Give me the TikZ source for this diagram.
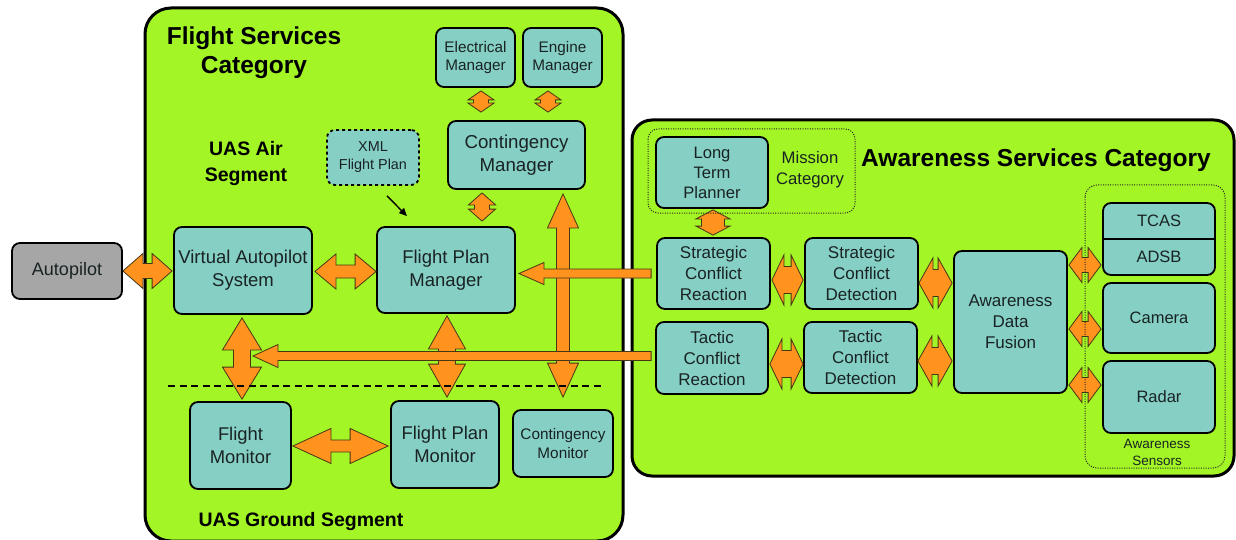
\documentclass[tikz,border=0pt]{standalone}
\usepackage{fontspec}
\setmainfont{Liberation Sans}
\usetikzlibrary{calc,arrows.meta}
\definecolor{limeg}{RGB}{163,245,38}
\definecolor{tealb}{RGB}{134,207,196}
\definecolor{orng}{RGB}{255,147,30}
\definecolor{grayb}{RGB}{166,166,166}
\definecolor{arrline}{RGB}{70,55,20}
\definecolor{txt}{RGB}{25,35,35}
\newcommand\fz[2]{\fontsize{#1}{#2}\selectfont}
% horizontal double arrow: #1 left tip, #2 right tip, #3 head half width, #4 shaft half width, #5 head length
\newcommand\hdarr[5]{\path[fatarr] let \p1=#1, \p2=#2 in
 (\x1,\y1) -- (\x1+#5pt,\y1+#3pt) -- (\x1+#5pt,\y1+#4pt) -- (\x2-#5pt,\y1+#4pt) -- (\x2-#5pt,\y1+#3pt) -- (\x2,\y1)
 -- (\x2-#5pt,\y1-#3pt) -- (\x2-#5pt,\y1-#4pt) -- (\x1+#5pt,\y1-#4pt) -- (\x1+#5pt,\y1-#3pt) -- cycle;}
% vertical double arrow: #1 top tip, #2 bottom tip
\newcommand\vdarr[5]{\path[fatarr] let \p1=#1, \p2=#2 in
 (\x1,\y1) -- (\x1+#3pt,\y1-#5pt) -- (\x1+#4pt,\y1-#5pt) -- (\x1+#4pt,\y2+#5pt) -- (\x1+#3pt,\y2+#5pt) -- (\x1,\y2)
 -- (\x1-#3pt,\y2+#5pt) -- (\x1-#4pt,\y2+#5pt) -- (\x1-#4pt,\y1-#5pt) -- (\x1-#3pt,\y1-#5pt) -- cycle;}
% single left-pointing arrow: #1 tip (left), #2 tail (right)
\newcommand\larr[5]{\path[fatarr] let \p1=#1, \p2=#2 in
 (\x1,\y1) -- (\x1+#5pt,\y1+#3pt) -- (\x1+#5pt,\y1+#4pt) -- (\x2,\y1+#4pt) -- (\x2,\y1-#4pt)
 -- (\x1+#5pt,\y1-#4pt) -- (\x1+#5pt,\y1-#3pt) -- cycle;}
\tikzset{
  bigbox/.style={draw=black, line width=3pt, fill=limeg},
  box/.style={draw=black, line width=1.8pt, rounded corners=8pt, fill=tealb, align=center, inner sep=0pt, text=txt},
  fatarr/.style={fill=orng, draw=arrline, line width=0.8pt, line join=miter},
  ttl/.style={align=center, text=black, font=\bfseries\fz{24.5}{29}},
  sub/.style={align=center, text=black, font=\bfseries\fz{19.5}{26}},
  lbl/.style={align=center, text=txt, inner sep=0pt},
  dotbox/.style={draw=black!85, line width=1pt, dash pattern=on 1pt off 1.4pt},
  sepline/.style={draw=black, line width=2.5pt, dash pattern=on 7pt off 4.5pt},
}
\begin{document}
\begin{tikzpicture}[x=1pt,y=-1pt]
\useasboundingbox (0,0) rectangle (1236,540);
% category areas
\draw[bigbox, rounded corners=26pt] (145,8) rectangle (623,541);
\draw[bigbox, rounded corners=20pt] (632,120) rectangle (1234,476);
% titles
\node[ttl] (fsctitle) at (254,53) {Flight Services\\Category};
\node[sub] (airtitle) at (246,164) {UAS Air\\Segment};
\node[sub] (gndtitle) at (301,521) {UAS Ground Segment};
\node[ttl] (asctitle) at (1036,160) {Awareness Services Category};
% boxes
\node[box, fill=grayb, minimum width=110pt, minimum height=56pt, font=\fz{18}{22}] (ap) at (67,271) {Autopilot};
\node[box, minimum width=138pt, minimum height=87pt, font=\fz{18.5}{23}] (vas) at (243,270.5) {Virtual Autopilot\\System};
\node[box, minimum width=138pt, minimum height=86pt, font=\fz{18.5}{23}] (fpm) at (446,270) {Flight Plan\\Manager};
\node[box, dashed, minimum width=92pt, minimum height=55pt, font=\fz{14.4}{18}] (xml) at (373,157.5) {XML\\Flight Plan};
\node[box, minimum width=79pt, minimum height=59pt, font=\fz{15.3}{18.5}] (elec) at (475.5,57.5) {Electrical\\Manager};
\node[box, minimum width=79pt, minimum height=59pt, font=\fz{15.3}{18.5}] (eng) at (562.5,57.5) {Engine\\Manager};
\node[box, minimum width=137pt, minimum height=68pt, font=\fz{18.7}{23}] (cm) at (516.5,155) {Contingency\\Manager};
\node[box, minimum width=101pt, minimum height=87pt, font=\fz{18.4}{23}] (fm) at (240.5,445.5) {Flight\\Monitor};
\node[box, minimum width=108pt, minimum height=87pt, font=\fz{18.4}{23}] (fpmon) at (445,444.5) {Flight Plan\\Monitor};
\node[box, minimum width=100pt, minimum height=67pt, font=\fz{15.3}{19}] (cmon) at (563,443.5) {Contingency\\Monitor};
\node[box, minimum width=112pt, minimum height=71pt, font=\fz{16.6}{20}] (ltp) at (712,172.5) {Long\\Term\\Planner};
\node[box, minimum width=113pt, minimum height=71pt, font=\fz{17}{21}] (scr) at (713.5,273.5) {Strategic\\Conflict\\Reaction};
\node[box, minimum width=113pt, minimum height=71pt, font=\fz{17}{21}] (scd) at (861.5,273.5) {Strategic\\Conflict\\Detection};
\node[box, minimum width=112pt, minimum height=72pt, font=\fz{17}{21}] (tcr) at (712,358) {Tactic\\Conflict\\Reaction};
\node[box, minimum width=113pt, minimum height=71pt, font=\fz{17}{21}] (tcd) at (860.5,357.5) {Tactic\\Conflict\\Detection};
\node[box, minimum width=113pt, minimum height=142pt, font=\fz{17}{21}] (adf) at (1010.5,322) {Awareness\\Data\\Fusion};
\node[box, minimum width=112pt, minimum height=72pt] (tcasbox) at (1159,239) {};
\draw[line width=1.5pt] (tcasbox.west) -- (tcasbox.east);
\node[lbl, font=\fz{16.5}{20}] (tcas) at ($(tcasbox.center)+(0,-18)$) {TCAS};
\node[lbl, font=\fz{16.5}{20}] (adsb) at ($(tcasbox.center)+(0,18)$) {ADSB};
\node[box, minimum width=112pt, minimum height=70pt, font=\fz{16.5}{20}] (cam) at (1159,318) {Camera};
\node[box, minimum width=112pt, minimum height=72pt, font=\fz{16.5}{20}] (radar) at (1159,397) {Radar};
% xml arrow
\draw[line width=1.4pt, -{Triangle[length=8pt,width=7pt]}] ($(xml.south)+(14,10)$) -- ($(fpm.north)+(-39,-10)$);
% small double arrows
\vdarr{($(elec.south)+(5.5,3)$)}{($(elec.south |- cm.north)+(5.5,-8)$)}{13}{7.5}{9}
\vdarr{($(eng.south)+(-14.5,3)$)}{($(eng.south |- cm.north)+(-14.5,-8)$)}{13}{7.5}{9}
\vdarr{($(cm.south)+(-34.5,3)$)}{($(cm.south |- fpm.north)+(-34.5,-5)$)}{13.5}{7.5}{12}
\vdarr{($(ltp.south)+(1,1)$)}{($(ltp.south |- scr.north)+(1,-2)$)}{17}{11.5}{9}
\hdarr{(ap.east)}{($(vas.west |- ap.east)+(-1,0)$)}{17.5}{7.5}{20}
\hdarr{($(vas.east)+(2,1)$)}{($(fpm.west |- vas.east)+(0,1)$)}{17.5}{6.5}{21}
\vdarr{($(vas.south)+(-1,3)$)}{($(vas.south |- fm.north)+(-1,-2)$)}{19.5}{8.5}{32}
\vdarr{($(fpm.south)+(1,2)$)}{($(fpm.south |- fpmon.north)+(1,-3)$)}{18.5}{8.5}{33}
\hdarr{($(fm.east)+(1,0.5)$)}{($(fpmon.west |- fm.east)+(-2,0.5)$)}{17.5}{6}{38}
\hdarr{($(scr.east)+(1,6.5)$)}{($(scd.west |- scr.east)+(-1,6.5)$)}{25}{13.5}{12}
\hdarr{($(scd.east)+(0,9.5)$)}{($(adf.west |- scd.east)+(-1,9.5)$)}{25}{13.5}{14}
\hdarr{($(tcr.east)+(1,6)$)}{($(tcd.west |- tcr.east)+(0,6)$)}{25}{13.5}{12}
\hdarr{($(tcd.east)+(0,3.5)$)}{($(adf.west |- tcd.east)+(-1,3.5)$)}{25}{13.5}{14}
\hdarr{($(adf.east |- tcasbox.center)+(1,26)$)}{($(tcasbox.west)+(-1,26)$)}{17.5}{7.5}{13}
\hdarr{($(adf.east |- cam.center)+(1,11)$)}{($(cam.west)+(-1,11)$)}{17.5}{7.5}{13}
\hdarr{($(adf.east |- radar.center)+(1,-12)$)}{($(radar.west)+(-1,-12)$)}{17.5}{7.5}{13}
% long arrows
\vdarr{($(cmon.north |- cm.south)+(0,4)$)}{($(cmon.north)+(0,-12)$)}{15.5}{6.5}{34}
\larr{($(fpm.east |- scr.west)+(3,0)$)}{($(scr.west)+(-5,0)$)}{11}{4.5}{25}
\larr{($(vas.south |- tcr.west)+(10,-2)$)}{($(tcr.west)+(-4,-2)$)}{11.5}{4.5}{25}
% air / ground separator
\draw[sepline] (168,386) -- (604,386);
% groupings
\draw[dotbox, rounded corners=10pt] (648,129) rectangle (855,213);
\node[lbl, font=\fz{16.7}{21}] (mission) at (810,170) {Mission\\Category};
\draw[dotbox, rounded corners=12pt] (1085,185) rectangle (1225,468);
\node[lbl, font=\fz{13.5}{17}] (sensors) at (1157,452) {Awareness\\Sensors};
\end{tikzpicture}
\end{document}
